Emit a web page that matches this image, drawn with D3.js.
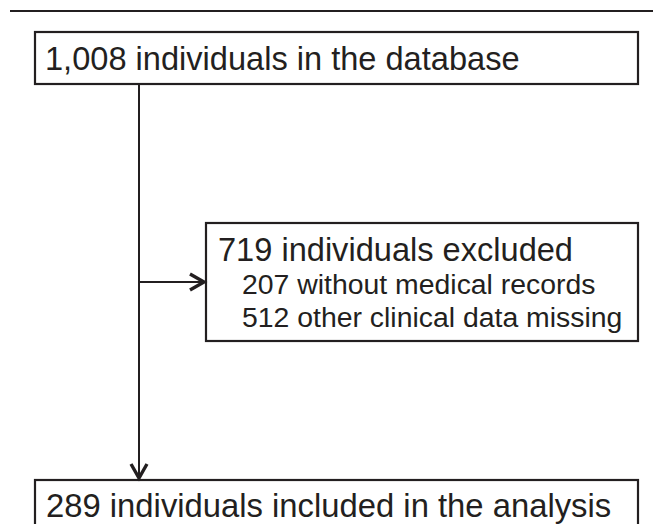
<!DOCTYPE html>
<html>
<head>
<meta charset="utf-8">
<script src="https://cdn.jsdelivr.net/npm/d3@7"></script>
<style>
  html, body { margin: 0; padding: 0; background: #fff; }
  svg { display: block; }
  text { font-family: "Liberation Sans", Arial, Helvetica, sans-serif; fill: #231f20; }
</style>
</head>
<body>
<svg id="chart" width="653" height="524"></svg>
<script>
// ---- data ----
const counts = [1008, 719, 289];
const mainLabels = ["individuals in the database", "individuals excluded", "individuals included in the analysis"];
const excludedCounts = [207, 512];
const excludedReasons = ["without medical records", "other clinical data missing"];

// ---- layout ----
const W = 653, H = 524;
const svg = d3.select("#chart");
const ink = "#231f20";
const fmt = d3.format(",");

const x = d3.scaleLinear().domain([0, 1]).range([35, 638]);

// defs: open chevron arrowhead
svg.append("defs").append("marker")
  .attr("id", "arrow")
  .attr("viewBox", "0 0 20 20")
  .attr("refX", 16).attr("refY", 10)
  .attr("markerWidth", 20).attr("markerHeight", 20)
  .attr("markerUnits", "userSpaceOnUse")
  .attr("orient", "auto")
  .append("path")
  .attr("d", "M2,2 L16,10 L2,18")
  .attr("fill", "none").attr("stroke", ink).attr("stroke-width", 3.4)
  .attr("stroke-linejoin", "miter");

// top rule
svg.append("line")
  .attr("x1", 10).attr("x2", W).attr("y1", 11).attr("y2", 11)
  .attr("stroke", ink).attr("stroke-width", 2.2);

// box geometry
const boxes = [
  { x0: x(0), x1: x(1), y0: 32, y1: 84 },
  { x0: 206, x1: x(1), y0: 223, y1: 341 },
  { x0: x(0), x1: x(1), y0: 480, y1: 540 }
];

svg.selectAll("rect.box").data(boxes).join("rect")
  .attr("class", "box")
  .attr("x", d => d.x0).attr("y", d => d.y0)
  .attr("width", d => d.x1 - d.x0).attr("height", d => d.y1 - d.y0)
  .attr("fill", "none").attr("stroke", ink).attr("stroke-width", 2.2);

// main vertical flow
const trunkX = 139;
svg.append("line")
  .attr("x1", trunkX).attr("x2", trunkX)
  .attr("y1", boxes[0].y1).attr("y2", boxes[2].y0 - 2)
  .attr("stroke", ink).attr("stroke-width", 2)
  .attr("marker-end", "url(#arrow)");

// branch to exclusion box
const branchY = (boxes[1].y0 + boxes[1].y1) / 2;
svg.append("line")
  .attr("x1", trunkX).attr("x2", boxes[1].x0 - 2)
  .attr("y1", branchY).attr("y2", branchY)
  .attr("stroke", ink).attr("stroke-width", 2)
  .attr("marker-end", "url(#arrow)");

// texts
svg.append("text")
  .attr("x", 45).attr("y", 70)
  .attr("font-size", 32.6)
  .text(fmt(counts[0]) + " " + mainLabels[0]);

svg.append("text")
  .attr("x", 218).attr("y", 261)
  .attr("font-size", 32.6)
  .text(fmt(counts[1]) + " " + mainLabels[1]);

svg.selectAll("text.reason").data(excludedReasons).join("text")
  .attr("class", "reason")
  .attr("x", 242)
  .attr("y", (d, i) => 294 + i * 33)
  .attr("font-size", 28.4)
  .text((d, i) => fmt(excludedCounts[i]) + " " + d);

svg.append("text")
  .attr("x", 46).attr("y", 517)
  .attr("font-size", 32.8)
  .text(fmt(counts[2]) + " " + mainLabels[2]);
</script>
</body>
</html>
